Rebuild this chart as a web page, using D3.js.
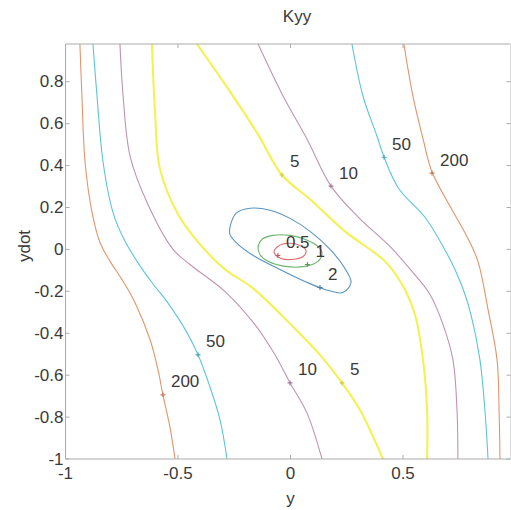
<!DOCTYPE html>
<html>
<head>
<meta charset="utf-8">
<script src="https://cdn.jsdelivr.net/npm/d3@7"></script>
<style>
  body { margin: 0; background: #fff; }
  text { font-family: "Liberation Sans", Arial, Helvetica, sans-serif; fill: #3a3a3a; }
</style>
</head>
<body>
<svg id="chart" width="511" height="510"></svg>
<script>
// Kyy contour map over (y, ydot); each line is a list of [y, ydot] points
const xDomain = [-1, 0.98];
const yDomain = [-1, 0.98];
const xTickValues = [-1, -0.5, 0, 0.5];
const xTickLabels = ["-1", "-0.5", "0", "0.5"];
const yTickValues = [-1, -0.8, -0.6, -0.4, -0.2, 0, 0.2, 0.4, 0.6, 0.8];
const yTickLabels = ["-1", "-0.8", "-0.6", "-0.4", "-0.2", "0", "0.2", "0.4", "0.6", "0.8"];
const levels = [0.5, 1, 2, 5, 10, 50, 200];

// open branches, left wall of the valley
const k200Left = [[-0.936,0.98],[-0.927,0.732],[-0.913,0.416],[-0.882,0.177],[-0.847,0.034],[-0.802,-0.057],[-0.749,-0.144],[-0.691,-0.254],[-0.624,-0.431],[-0.589,-0.574],[-0.567,-0.694],[-0.536,-0.847],[-0.513,-1.0]];
const k50Left  = [[-0.878,0.98],[-0.860,0.732],[-0.833,0.416],[-0.789,0.177],[-0.740,0.048],[-0.682,-0.057],[-0.616,-0.158],[-0.549,-0.249],[-0.460,-0.397],[-0.411,-0.503],[-0.358,-0.656],[-0.313,-0.814],[-0.282,-1.0]];
const k10Left  = [[-0.758,0.98],[-0.744,0.732],[-0.713,0.445],[-0.638,0.225],[-0.522,0],[-0.447,-0.072],[-0.291,-0.201],[-0.158,-0.359],[-0.069,-0.503],[-0.002,-0.637],[0.073,-0.780],[0.140,-1.0]];
const k5Left   = [[-0.616,0.98],[-0.602,0.656],[-0.580,0.383],[-0.500,0.168],[-0.402,0.024],[-0.291,-0.096],[-0.171,-0.182],[0.011,-0.369],[0.131,-0.503],[0.229,-0.637],[0.309,-0.766],[0.411,-1.0]];

// open branches, right wall of the valley
const k5Right   = [[-0.416,0.98],[-0.278,0.767],[-0.145,0.550],[-0.038,0.355],[0.087,0.239],[0.242,0.086],[0.420,-0.057],[0.496,-0.168],[0.553,-0.311],[0.589,-0.527],[0.607,-0.766],[0.607,-1.0]];
const k10Right  = [[-0.144,0.98],[-0.033,0.732],[0.073,0.527],[0.180,0.302],[0.302,0.153],[0.442,0.014],[0.540,-0.105],[0.620,-0.215],[0.678,-0.359],[0.722,-0.527],[0.740,-0.766],[0.744,-1.0]];
const k50Right  = [[0.273,0.98],[0.322,0.732],[0.384,0.541],[0.416,0.440],[0.480,0.292],[0.600,0.150],[0.678,0.014],[0.731,-0.096],[0.771,-0.201],[0.802,-0.311],[0.842,-0.527],[0.864,-0.766],[0.878,-1.0]];
const k200Right = [[0.504,0.98],[0.544,0.732],[0.589,0.527],[0.629,0.369],[0.709,0.206],[0.784,0.062],[0.833,-0.057],[0.878,-0.287],[0.918,-0.527],[0.927,-0.766],[0.931,-1.0]];

// closed loops round the minimum
const k2Loop  = [[-0.269,0.105],[-0.242,0.172],[-0.180,0.196],[-0.091,0.187],[-0.002,0.148],[0.087,0.086],[0.176,0],[0.242,-0.091],[0.269,-0.158],[0.233,-0.206],[0.153,-0.191],[0.064,-0.153],[-0.047,-0.096],[-0.158,-0.034],[-0.233,0.024],[-0.269,0.072]];
const k1Loop  = [[-0.144,0.010],[-0.127,0.048],[-0.078,0.067],[-0.002,0.067],[0.064,0.048],[0.122,0.014],[0.140,-0.019],[0.122,-0.057],[0.064,-0.081],[-0.024,-0.081],[-0.100,-0.057],[-0.136,-0.024]];
const k05Loop = [[-0.073,-0.014],[-0.056,0.014],[-0.011,0.029],[0.042,0.019],[0.069,-0.005],[0.056,-0.034],[0.007,-0.048],[-0.042,-0.043]];

// label anchors on the lines: [level, y, ydot]
const contourLabels = [
  [5, -0.038, 0.355], [10, 0.180, 0.302], [50, 0.416, 0.440], [200, 0.629, 0.364],
  [50, -0.411, -0.503], [200, -0.567, -0.694], [10, -0.002, -0.637], [5, 0.229, -0.637],
  [2, 0.131, -0.182], [1, 0.075, -0.072], [0.5, -0.056, -0.029]
];

const contourLines = [
  { level: 200, closed: false, pts: k200Left },
  { level: 50,  closed: false, pts: k50Left },
  { level: 10,  closed: false, pts: k10Left },
  { level: 5,   closed: false, pts: k5Left },
  { level: 5,   closed: false, pts: k5Right },
  { level: 10,  closed: false, pts: k10Right },
  { level: 50,  closed: false, pts: k50Right },
  { level: 200, closed: false, pts: k200Right },
  { level: 2,   closed: true,  pts: k2Loop },
  { level: 1,   closed: true,  pts: k1Loop },
  { level: 0.5, closed: true,  pts: k05Loop }
];

const lineColor = d3.scaleOrdinal()
  .domain(levels)
  .range(["#e26c6c", "#6cb46c", "#5a93c0", "#f4f04c", "#bf94b0", "#5cc4dc", "#e4946a"]);
const lineWidth = l => (l === 5 ? 2 : 1.1);

const margin = { left: 65.5, right: 0, top: 44, bottom: 51 };
const W = 511, H = 510;
const x = d3.scaleLinear().domain(xDomain).range([margin.left, W - margin.right]);
const y = d3.scaleLinear().domain(yDomain).range([H - margin.bottom, margin.top]);

const svg = d3.select("#chart");

svg.append("defs").append("clipPath").attr("id", "plotClip")
  .append("rect")
  .attr("x", x(xDomain[0])).attr("y", y(yDomain[1]))
  .attr("width", x(xDomain[1]) - x(xDomain[0]))
  .attr("height", y(yDomain[0]) - y(yDomain[1]));

const plot = svg.append("g").attr("clip-path", "url(#plotClip)");

const openLine = d3.line().x(d => x(d[0])).y(d => y(d[1])).curve(d3.curveCatmullRom.alpha(0.5));
const loopLine = d3.line().x(d => x(d[0])).y(d => y(d[1])).curve(d3.curveCatmullRomClosed.alpha(0.5));

plot.selectAll("path.contour")
  .data(contourLines)
  .join("path")
  .attr("class", "contour")
  .attr("d", d => (d.closed ? loopLine : openLine)(d.pts))
  .attr("fill", "none")
  .attr("stroke", d => lineColor(d.level))
  .attr("stroke-width", d => lineWidth(d.level))
  .attr("stroke-linejoin", "round");

// '+' markers and level text
const labelG = svg.append("g");
contourLabels.forEach(([lev, a, b]) => {
  const px = x(a), py = y(b);
  labelG.append("path")
    .attr("d", `M${px - 2.5},${py}H${px + 2.5}M${px},${py - 2.5}V${py + 2.5}`)
    .attr("stroke", d3.color(lineColor(lev)).darker(0.5))
    .attr("stroke-width", 1.1);
  labelG.append("text")
    .attr("x", px + 8)
    .attr("y", py - 13)
    .attr("dominant-baseline", "central")
    .attr("font-size", 17)
    .text(String(lev));
});

// axes box
const axisColor = "#ababab";
const x0 = x(xDomain[0]), x1 = x(xDomain[1]) - 0.5, yb = y(yDomain[0]), yt = y(yDomain[1]);
const box = svg.append("g").attr("stroke", axisColor).attr("stroke-width", 1).attr("fill", "none");
box.append("path").attr("d", `M${x1},${yt}H${x0}V${yb}H${x1}`);
box.append("path").attr("d", `M${x1},${yt}V${yb}`).attr("stroke", "#dadada");

// inward ticks on all four sides
const tickLen = 4;
xTickValues.forEach(v => {
  const px = x(v);
  box.append("path").attr("d", `M${px},${yb}V${yb - tickLen}M${px},${yt}V${yt + tickLen}`);
});
yTickValues.forEach(v => {
  const py = y(v);
  box.append("path").attr("d", `M${x0},${py}H${x0 + tickLen}M${x1},${py}H${x1 - tickLen}`);
});

// tick labels
svg.append("g").selectAll("text")
  .data(xTickValues)
  .join("text")
  .attr("x", d => x(d))
  .attr("y", yb + 14)
  .attr("text-anchor", "middle")
  .attr("dominant-baseline", "central")
  .attr("font-size", 17)
  .text((d, i) => xTickLabels[i]);

svg.append("g").selectAll("text")
  .data(yTickValues)
  .join("text")
  .attr("x", x0 - 2)
  .attr("y", d => y(d))
  .attr("text-anchor", "end")
  .attr("dominant-baseline", "central")
  .attr("font-size", 17)
  .text((d, i) => yTickLabels[i]);

// title and axis names
svg.append("text")
  .attr("x", 297).attr("y", 16)
  .attr("text-anchor", "middle").attr("dominant-baseline", "central")
  .attr("font-size", 17)
  .text("Kyy");

svg.append("text")
  .attr("x", 290.5).attr("y", 498)
  .attr("text-anchor", "middle").attr("dominant-baseline", "central")
  .attr("font-size", 17)
  .text("y");

svg.append("text")
  .attr("transform", "translate(24,246) rotate(-90)")
  .attr("text-anchor", "middle").attr("dominant-baseline", "central")
  .attr("font-size", 17)
  .text("ydot");
</script>
</body>
</html>
